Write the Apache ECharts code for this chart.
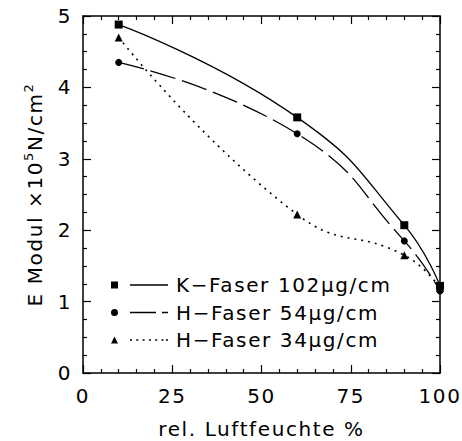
<!DOCTYPE html>
<html>
<head>
<meta charset="utf-8">
<script src="https://cdn.jsdelivr.net/npm/echarts@6/dist/echarts.min.js"></script>
<style>
  html, body { margin: 0; padding: 0; background: #fff; }
  #chart { width: 462px; height: 441px; }
  /* wide, open lettering for every label */
  #chart text { letter-spacing: 1.6px; }
</style>
</head>
<body>
<div id="chart"></div>
<script>
// Elastic modulus of fibres vs. relative humidity
const humidity = [10, 60, 90, 100];
const kFaser102 = [4.88, 3.58, 2.07, 1.22];
const hFaser54 = [4.35, 3.35, 1.85, 1.15];
const hFaser34 = [4.70, 2.22, 1.65, 1.19];
const seriesNames = ['K\u2212Faser 102\u03bcg/cm', 'H\u2212Faser 54\u03bcg/cm', 'H\u2212Faser 34\u03bcg/cm'];
const xTicks = [0, 25, 50, 75, 100];
const yTicks = [0, 1, 2, 3, 4, 5];

const FONT = 'DejaVu Sans';
const FONT_SIZE = 20;
const LETTER_SPACING = '1.6px';
const INK = '#000';

// keep text measurement consistent with the letter spacing used when drawing
if (echarts.setPlatformAPI) {
  const measureCtx = document.createElement('canvas').getContext('2d');
  measureCtx.letterSpacing = LETTER_SPACING;
  echarts.setPlatformAPI({
    measureText: function (text, font) {
      measureCtx.font = font || ('12px ' + FONT);
      return measureCtx.measureText(text);
    }
  });
}

// legend icons: marker followed by a short sample of the line style
const iconSquareSolid = 'path://M0,0H7V7H0Z M19,2.8H57V4.2H19Z';
const iconCircleDash = 'path://M0,3.5A3.5,3.5,0,1,1,7,3.5A3.5,3.5,0,1,1,0,3.5Z M19,2.8H45V4.2H19Z M51,2.8H57V4.2H51Z';
const iconTriangleDot = 'path://M3.5,0L7,7H0Z M19,2.8H21V4.2H19Z M25.3,2.8H27.3V4.2H25.3Z M31.6,2.8H33.6V4.2H31.6Z M37.9,2.8H39.9V4.2H37.9Z M44.2,2.8H46.2V4.2H44.2Z M50.5,2.8H52.5V4.2H50.5Z M55,2.8H57V4.2H55Z';

const chart = echarts.init(document.getElementById('chart'), null, { renderer: 'svg' });

function makeAxisX(primary) {
  return {
    type: 'value',
    position: primary ? 'bottom' : 'top',
    min: xTicks[0], max: xTicks[xTicks.length - 1], interval: 25,
    axisLine: { show: true, onZero: false, lineStyle: { color: INK, width: 1.5 } },
    axisTick: { show: true, inside: true, length: 8, lineStyle: { color: INK, width: 1.2 } },
    minorTick: { show: true, splitNumber: 5, length: 4, lineStyle: { color: INK, width: 1.2 } },
    splitLine: { show: false },
    axisLabel: { show: primary, margin: 12, color: INK, fontFamily: FONT, fontSize: FONT_SIZE },
    name: primary ? 'rel. Luftfeuchte %' : '',
    nameLocation: 'middle', nameGap: 45,
    nameTextStyle: { color: INK, fontFamily: FONT, fontSize: FONT_SIZE }
  };
}
function makeAxisY(primary) {
  return {
    type: 'value',
    position: primary ? 'left' : 'right',
    min: yTicks[0], max: yTicks[yTicks.length - 1], interval: 1,
    axisLine: { show: true, onZero: false, lineStyle: { color: INK, width: 1.5 } },
    axisTick: { show: true, inside: true, length: 8, lineStyle: { color: INK, width: 1.2 } },
    minorTick: { show: true, splitNumber: 4, length: 4, lineStyle: { color: INK, width: 1.2 } },
    splitLine: { show: false },
    axisLabel: { show: primary, margin: 11, color: INK, fontFamily: FONT, fontSize: FONT_SIZE },
    name: primary ? '{a|E Modul \u00d710}{s|5}{a|N/cm}{s|2}' : '',
    nameLocation: 'middle', nameGap: 34, nameRotate: 90,
    nameTextStyle: {
      color: INK, fontFamily: FONT,
      rich: {
        a: { fontFamily: FONT, fontSize: FONT_SIZE, lineHeight: 28, color: INK },
        s: { fontFamily: FONT, fontSize: 13, lineHeight: 12, verticalAlign: 'top', color: INK }
      }
    }
  };
}

function makeSeries(name, values, symbol, size, dash, width, smooth) {
  return {
    name: name,
    type: 'line',
    data: humidity.map((x, i) => [x, values[i]]),
    smooth: smooth,
    clip: false,
    symbol: symbol,
    symbolSize: size,
    showSymbol: true,
    itemStyle: { color: INK, borderWidth: 0 },
    lineStyle: { color: INK, width: width, type: dash },
    emphasis: { disabled: true },
    animation: false
  };
}

chart.setOption({
  animation: false,
  textStyle: { fontFamily: FONT },
  grid: { left: 83, right: 22, top: 16, bottom: 68, containLabel: false, outerBoundsMode: 'none' },
  xAxis: [makeAxisX(true), makeAxisX(false)],
  yAxis: [makeAxisY(true), makeAxisY(false)],
  legend: {
    orient: 'vertical',
    left: 111, top: 274,
    padding: 0,
    itemWidth: 57, itemHeight: 7,
    itemGap: 5.5,
    selectedMode: false,
    itemStyle: { borderWidth: 0 },
    textStyle: { color: INK, fontFamily: FONT, fontSize: FONT_SIZE, lineHeight: 22, padding: [0, 0, 0, 3] },
    data: [
      { name: seriesNames[0], icon: iconSquareSolid },
      { name: seriesNames[1], icon: iconCircleDash },
      { name: seriesNames[2], icon: iconTriangleDot }
    ]
  },
  series: [
    makeSeries(seriesNames[0], kFaser102, 'rect', 8, 'solid', 1.3, 0.5),
    makeSeries(seriesNames[1], hFaser54, 'circle', 7, [26, 7], 1.3, 0.5),
    makeSeries(seriesNames[2], hFaser34, 'triangle', 8, [2, 5], 1.6, 0.5)
  ]
});
</script>
</body>
</html>
